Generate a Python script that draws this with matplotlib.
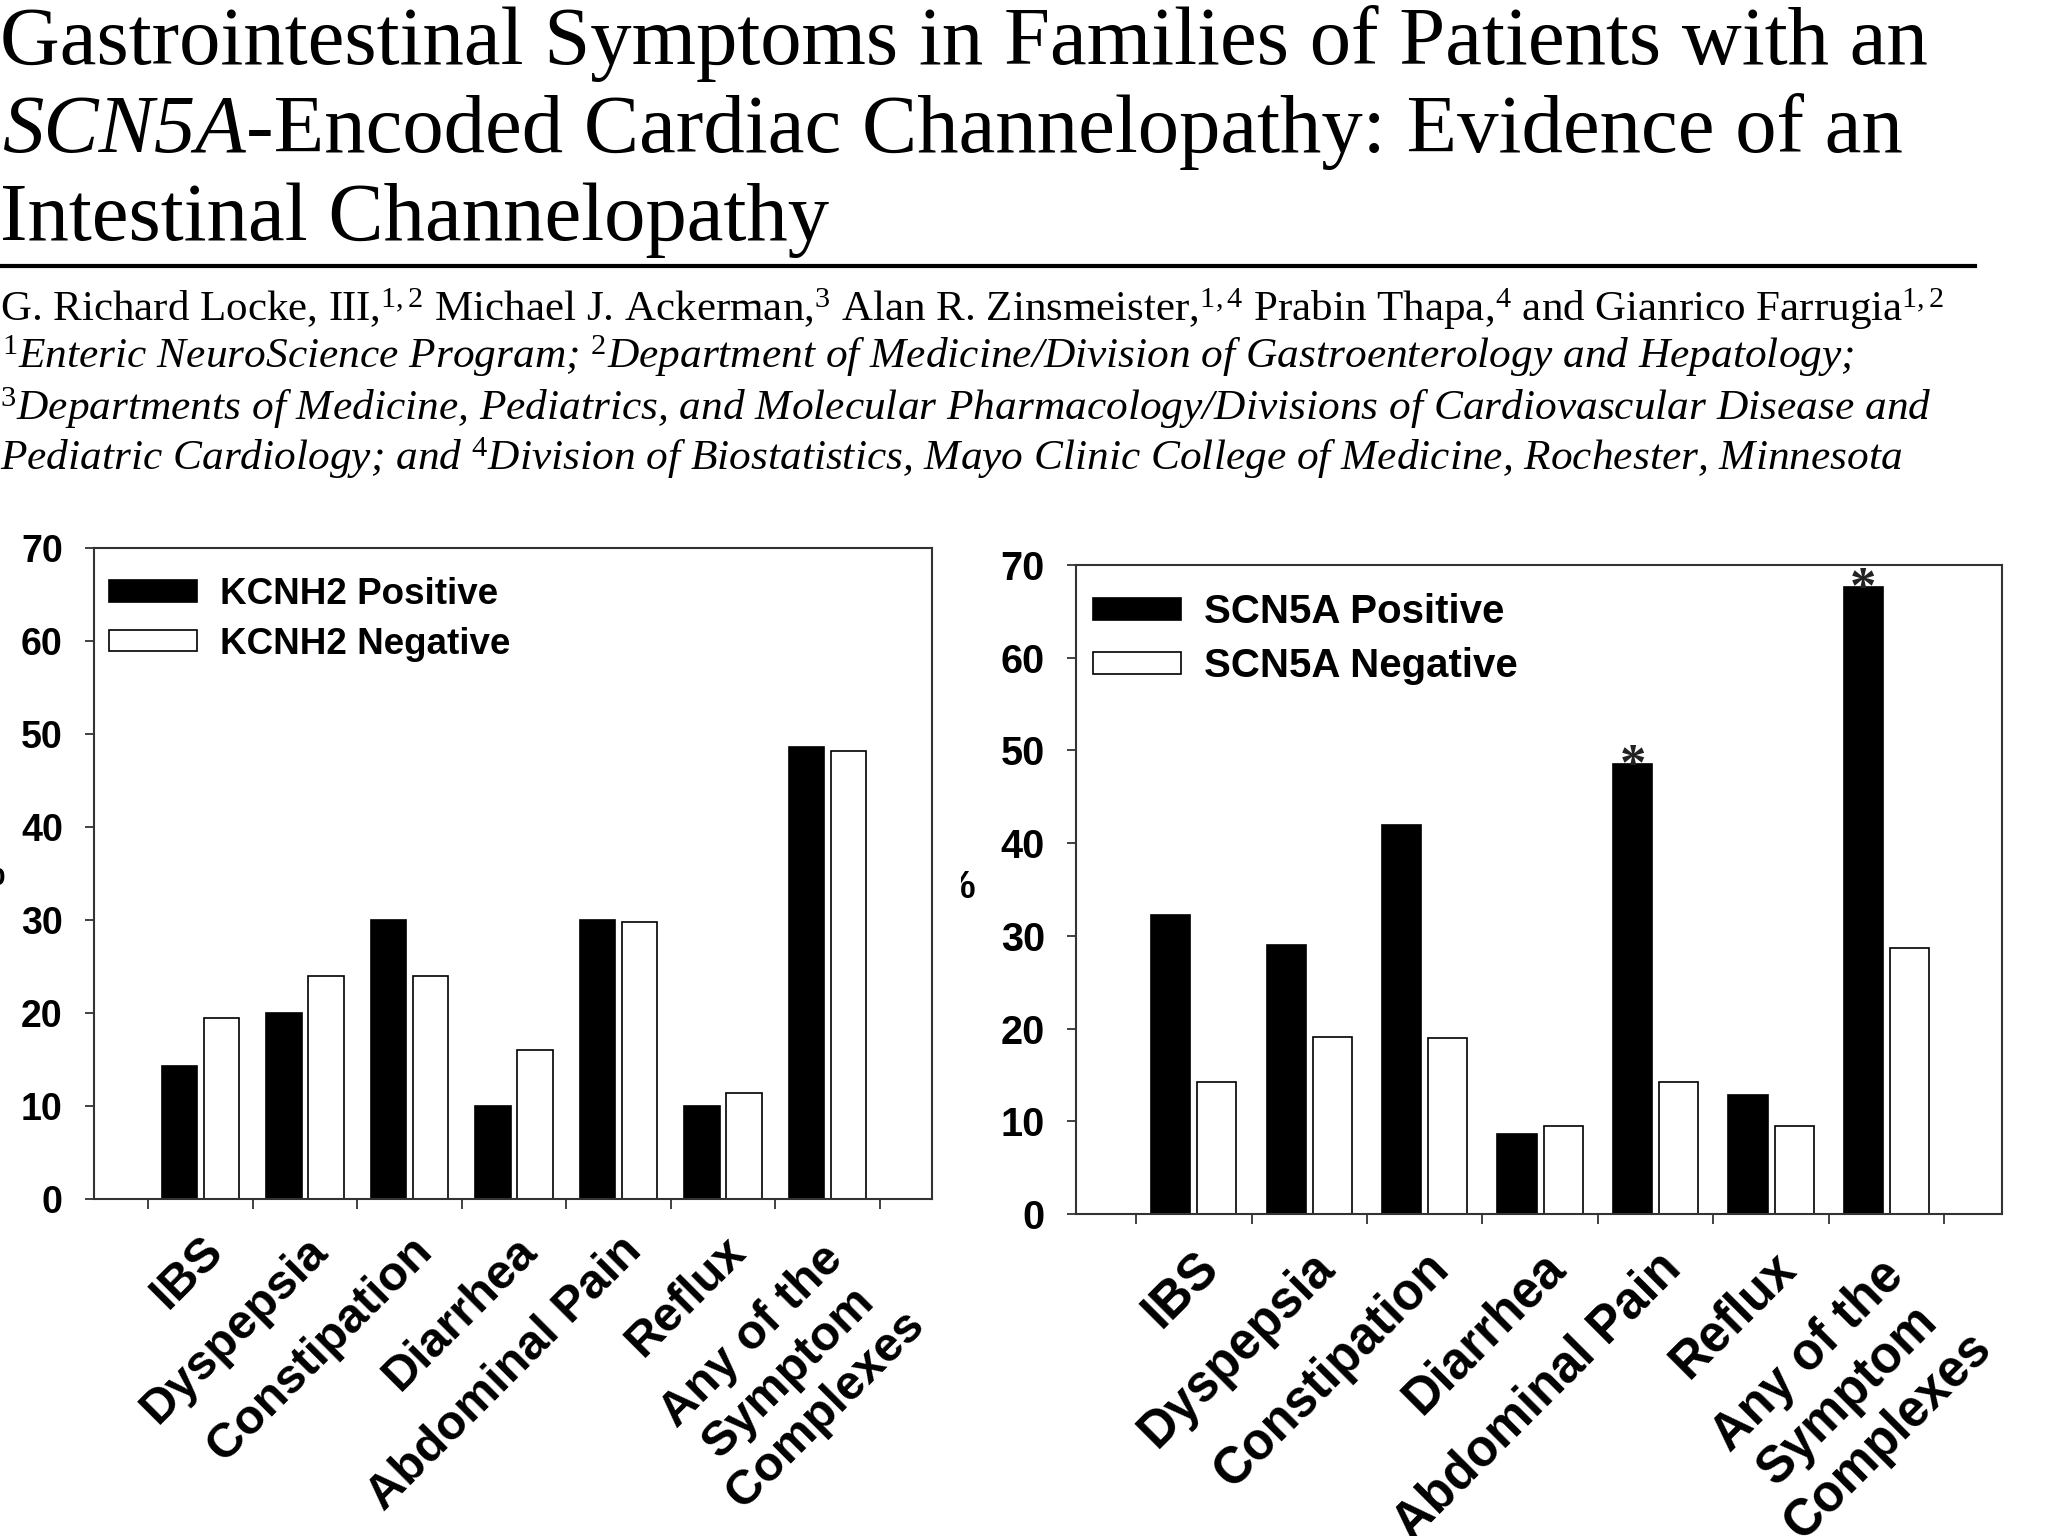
import matplotlib
matplotlib.use('Agg')
import matplotlib.pyplot as plt
from matplotlib.transforms import ScaledTranslation, Bbox
from matplotlib.lines import Line2D
import numpy as np

# data (%)
symptoms = ['IBS', 'Dyspepsia', 'Constipation', 'Diarrhea', 'Abdominal Pain', 'Reflux',
            'Any of the\nSymptom\nComplexes']
kcnh2_pos = [14.3, 20.0, 30.0, 10.0, 30.0, 10.0, 48.6]
kcnh2_neg = [19.5, 24.0, 24.0, 16.0, 29.8, 11.4, 48.2]
scn5a_pos = [32.2, 29.0, 42.0, 8.6, 48.5, 12.8, 67.6]
scn5a_neg = [14.2, 19.1, 19.0, 9.5, 14.2, 9.5, 28.7]
scn5a_star = [False, False, False, False, True, False, True]
yticks = [0, 10, 20, 30, 40, 50, 60, 70]

title1 = 'Gastrointestinal Symptoms in Families of Patients with an'
title2a = 'SCN5A'
title2b = '-Encoded Cardiac Channelopathy: Evidence of an'
title3 = 'Intestinal Channelopathy'
authors = (r'G. Richard Locke, III,$^{1,2}$ Michael J. Ackerman,$^{3}$ Alan R. Zinsmeister,$^{1,4}$ '
           r'Prabin Thapa,$^{4}$ and Gianrico Farrugia$^{1,2}$')
affil = [r'$^{1}$Enteric NeuroScience Program; $^{2}$Department of Medicine/Division of Gastroenterology and Hepatology;',
         r'$^{3}$Departments of Medicine, Pediatrics, and Molecular Pharmacology/Divisions of Cardiovascular Disease and',
         r'Pediatric Cardiology; and $^{4}$Division of Biostatistics, Mayo Clinic College of Medicine, Rochester, Minnesota']

plt.rcParams['font.family'] = ['Liberation Sans', 'DejaVu Sans']
plt.rcParams['mathtext.fontset'] = 'custom'
plt.rcParams['mathtext.rm'] = 'Liberation Serif'
plt.rcParams['mathtext.it'] = 'Liberation Serif:italic'

W, H = 2048, 1536
fig = plt.figure(figsize=(W / 100, H / 100), dpi=100)
renderer = fig.canvas.get_renderer()


def px(x, y):
    # pixel position (from top left) -> figure fraction
    return x / W, 1 - y / H


def serif(x, y, s, size, width=None, **kw):
    t = fig.text(*px(x, y), s, fontsize=size, ha='left', va='baseline',
                 family=['Liberation Serif', 'DejaVu Serif'], **kw)
    if width:
        w = t.get_window_extent(renderer).width
        t.set_fontsize(size * width / w)
    return t


# header
t = serif(0, 64, title1, 59, width=1930)
tsize = t.get_fontsize()
t = serif(2, 152, title2a, tsize, style='italic')
w = t.get_window_extent(renderer).width
serif(2 + w, 152, title2b, tsize)
serif(0, 240, title3, tsize)
fig.add_artist(Line2D([0, 1975 / W], [1 - 266 / H] * 2, color='black', lw=3))

serif(0, 321, authors, 28, width=1946)
t = serif(0, 420, affil[1], 28, width=1933, style='italic')
asize = t.get_fontsize()
serif(2, 368, affil[0], asize, style='italic')
serif(0, 470, affil[2], asize, style='italic')


def panel(box, pos, neg, gene, stars, tick_fs, leg_fs, cat_fs, leg_anchor):
    left, top, right, bottom = box
    ax = fig.add_axes([left / W, 1 - bottom / H, (right - left) / W, (bottom - top) / H])
    x = np.arange(len(symptoms))
    bars = ax.bar(x - 0.2, pos, 0.34, color='black', edgecolor='black', lw=1.2,
                  label=gene + ' Positive')
    ax.bar(x + 0.2, neg, 0.34, color='white', edgecolor='black', lw=1.2,
           label=gene + ' Negative')
    if stars:
        for b, s in zip(bars, stars):
            if s:
                ax.annotate('*', (b.get_x() + b.get_width() / 2, b.get_height()),
                            xytext=(0, -11), textcoords='offset points', ha='center',
                            va='baseline', fontsize=38, family='Liberation Serif',
                            fontweight='bold', color='#222')
    ax.set_xlim(-1.02, 7.0)
    ax.set_ylim(0, 70)
    ax.set_yticks(yticks)
    plt.setp(ax.get_yticklabels(), fontweight='bold')
    ax.set_xticks(np.arange(-0.5, 7, 1))
    ax.set_xticklabels([])
    ax.set_xticks(x, symptoms, minor=True, rotation=45, ha='right', va='top',
                  rotation_mode='anchor', multialignment='center', fontsize=cat_fs,
                  fontweight='bold', linespacing=1.2)
    for lab in ax.get_xticklabels(minor=True):
        lab.set_transform(lab.get_transform() + ScaledTranslation(0.06, 0, fig.dpi_scale_trans))
    ax.tick_params(axis='y', direction='out', length=6.5, width=1.3, pad=16,
                   labelsize=tick_fs, color='#333')
    ax.tick_params(axis='x', which='major', direction='out', length=7, width=1.3, color='#333')
    ax.tick_params(axis='x', which='minor', length=0, pad=21)
    for sp in ax.spines.values():
        sp.set_linewidth(1.5)
        sp.set_color('#333')
    fs_px = leg_fs / 72 * 100
    ax.legend(loc='upper left', bbox_to_anchor=leg_anchor, frameon=False,
              prop={'size': leg_fs, 'weight': 'bold'},
              handlelength=88 / fs_px, handleheight=19 / fs_px, handletextpad=23 / fs_px,
              labelspacing=0.4, borderpad=0, borderaxespad=0)
    return ax


panel((94, 548, 932, 1199), kcnh2_pos, kcnh2_neg, 'KCNH2', None, 27, 26.5, 35,
      (15 / 838, 1 - 29 / 651))
panel((1076, 565, 2002, 1214), scn5a_pos, scn5a_neg, 'SCN5A', scn5a_star, 28.5, 29, 36.5,
      (17 / 926, 1 - 28 / 649))

# y-axis "%" labels, cut off by the page crop in the original
fig.text(*px(4, 875), '%', ha='right', va='center', fontsize=27, fontweight='bold')
t = fig.text(*px(976, 888), '%', ha='right', va='center', fontsize=28, fontweight='bold')
t.set_clip_box(Bbox.from_extents(961, 0, W, H))
t.set_clip_on(True)

fig.savefig('out.png', dpi=100)
